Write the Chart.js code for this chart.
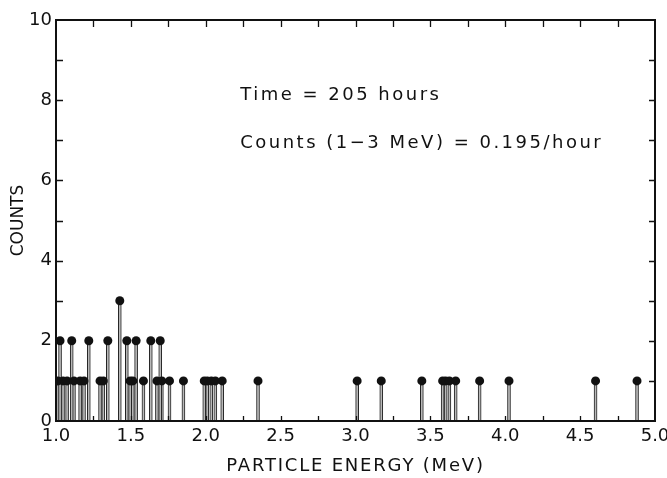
<!DOCTYPE html>
<html>
<head>
<meta charset="utf-8">
<script src="https://cdn.jsdelivr.net/npm/chart.js@4"></script>
<style>
  html, body { margin: 0; padding: 0; background: #fff; }
  #plot { display: block; }
</style>
</head>
<body>
<canvas id="plot" width="667" height="478"></canvas>
<script>
// individual events: energy (MeV) and counts
const eventEnergy = [
  1.013, 1.047, 1.074, 1.120, 1.161, 1.187, 1.294, 1.316,
  1.495, 1.513, 1.584, 1.674, 1.707, 1.758, 1.851,
  1.990, 2.010, 2.037, 2.064, 2.110, 2.349,
  3.011, 3.172, 3.443, 3.582, 3.602, 3.627, 3.669, 3.829, 4.025, 4.603, 4.880,
  1.027, 1.105, 1.219, 1.346, 1.473, 1.535, 1.633, 1.696,
  1.426
];
const eventCounts = [
  1, 1, 1, 1, 1, 1, 1, 1,
  1, 1, 1, 1, 1, 1, 1,
  1, 1, 1, 1, 1, 1,
  1, 1, 1, 1, 1, 1, 1, 1, 1, 1, 1,
  2, 2, 2, 2, 2, 2, 2, 2,
  3
];
const xTicks = [1.0, 1.5, 2.0, 2.5, 3.0, 3.5, 4.0, 4.5, 5.0];
const yTicks = [0, 2, 4, 6, 8, 10];
const noteLines = ['Time = 205 hours', 'Counts (1\u22123 MeV) = 0.195/hour'];
const xTitle = 'PARTICLE ENERGY (MeV)';

const FONT = '"DejaVu Sans", Arial, sans-serif';
const points = eventEnergy.map((e, i) => ({ x: e, y: eventCounts[i] }));

const frame = {
  id: 'frame',
  afterDraw(chart) {
    const { ctx, chartArea: a, scales: { x, y } } = chart;
    ctx.save();
    ctx.strokeStyle = '#111';
    ctx.lineWidth = 2;
    ctx.strokeRect(a.left, a.top, a.right - a.left, a.bottom - a.top);
    ctx.lineWidth = 1.3;
    ctx.beginPath();
    for (let v = 1.25; v < 5; v += 0.25) {
      const px = Math.round(x.getPixelForValue(v)) + 0.5;
      ctx.moveTo(px, a.top); ctx.lineTo(px, a.top + 7);
      ctx.moveTo(px, a.bottom); ctx.lineTo(px, a.bottom - 5);
    }
    for (let v = 1; v < 10; v++) {
      const py = Math.round(y.getPixelForValue(v)) + 0.5;
      ctx.moveTo(a.left, py); ctx.lineTo(a.left + 7, py);
      ctx.moveTo(a.right, py); ctx.lineTo(a.right - 6, py);
    }
    ctx.stroke();

    ctx.fillStyle = '#111';
    ctx.font = '18px ' + FONT;
    ctx.letterSpacing = '2.5px';
    ctx.textAlign = 'left';
    ctx.textBaseline = 'alphabetic';
    ctx.fillText(noteLines[0], x.getPixelForValue(2.23), y.getPixelForValue(8.0));
    ctx.fillText(noteLines[1], x.getPixelForValue(2.23), y.getPixelForValue(6.8));

    // x axis title, letter-spaced like the original lettering
    ctx.letterSpacing = '1.8px';
    ctx.textAlign = 'center';
    ctx.textBaseline = 'middle';
    ctx.fillText(xTitle, (a.left + a.right) / 2, x.bottom - 12);
    ctx.restore();
  }
};

new Chart(document.getElementById('plot'), {
  type: 'bar',
  data: {
    datasets: [
      {
        type: 'scatter',
        data: points,
        pointRadius: 4.5,
        pointBackgroundColor: '#111',
        pointBorderWidth: 0,
        order: 0
      },
      {
        type: 'bar',
        data: points,
        barThickness: 3,
        backgroundColor: '#b8b8b8',
        borderColor: '#222',
        borderWidth: 1,
        borderSkipped: false,
        order: 1
      }
    ]
  },
  options: {
    responsive: false,
    animation: false,
    layout: { padding: { left: 0, right: 0, top: 20, bottom: 0 } },
    plugins: { legend: { display: false }, tooltip: { enabled: false } },
    scales: {
      x: {
        type: 'linear', min: 1, max: 5, offset: false,
        afterBuildTicks: s => { s.ticks = xTicks.map(v => ({ value: v })); },
        afterFit: s => { s.height = 57; s.paddingRight = 12; },
        ticks: { color: '#111', padding: 5, font: { family: FONT, size: 18 }, callback: v => v.toFixed(1) },
        grid: { display: false, drawTicks: false },
        border: { display: false }
      },
      y: {
        type: 'linear', min: 0, max: 10,
        afterBuildTicks: s => { s.ticks = yTicks.map(v => ({ value: v })); },
        afterFit: s => { s.width = 56; },
        ticks: { color: '#111', padding: 4, font: { family: FONT, size: 18 } },
        grid: { display: false, drawTicks: false },
        border: { display: false },
        title: { display: true, text: 'COUNTS', color: '#111', font: { family: FONT, size: 17 }, padding: { top: 8, bottom: 0 } }
      }
    }
  },
  plugins: [frame]
});
</script>
</body>
</html>
